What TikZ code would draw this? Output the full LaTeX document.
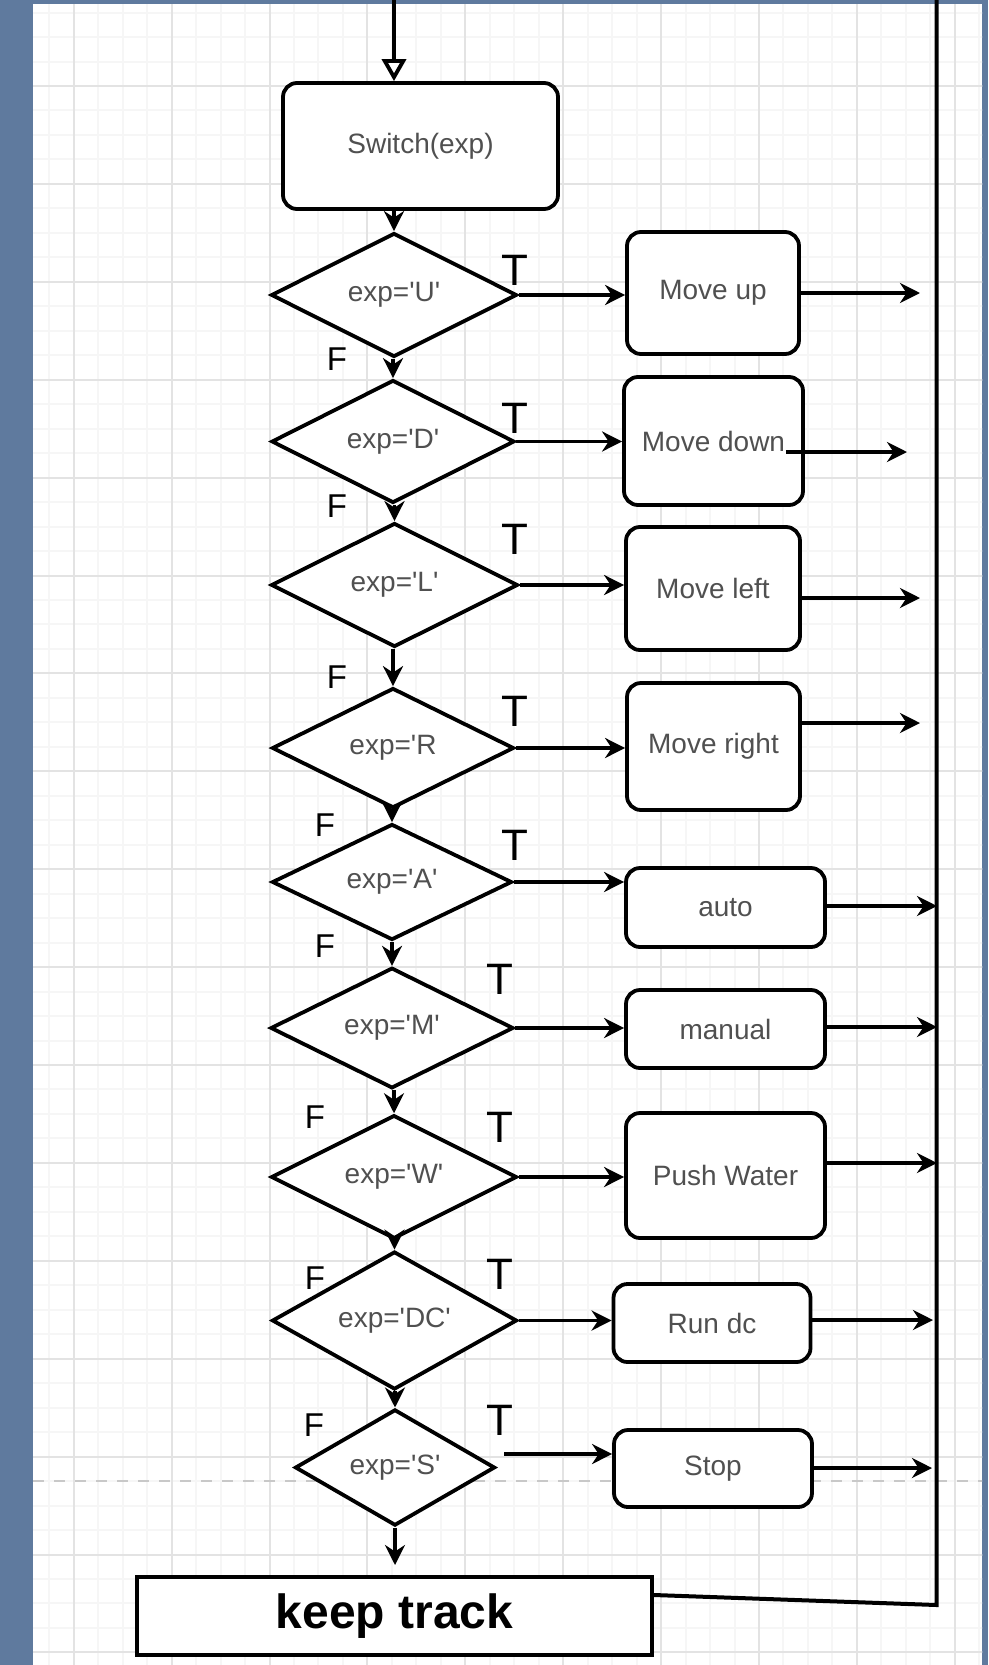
\documentclass[tikz,border=0pt]{standalone}
\usepackage{fontspec}
\setmainfont{Liberation Sans}
\usetikzlibrary{shapes.geometric,arrows.meta,calc}
\definecolor{frameblue}{HTML}{5F7A9E}
\definecolor{gridmajor}{HTML}{E3E3E3}
\definecolor{gridminor}{HTML}{F6F6F6}
\definecolor{txtgray}{HTML}{505050}
\definecolor{dashgray}{HTML}{C8C8C8}
\newcommand{\sq}{\textquotesingle}
\begin{document}
\begin{tikzpicture}[x=1pt,y=-1pt,
  box/.style={draw=black, line width=3.8pt, rounded corners=14pt, fill=white, inner sep=0pt,
    text=txtgray, font=\fontsize{28}{32}\selectfont},
  dia/.style={diamond, draw=black, line width=3.8pt, fill=white, inner sep=0pt,
    text=txtgray, font=\fontsize{28}{32}\selectfont},
  lblT/.style={inner sep=0pt, text=black, font=\fontsize{44}{48}\selectfont},
  lblF/.style={inner sep=0pt, text=black, font=\fontsize{33}{36}\selectfont},
  conn/.style={line width=3.8pt, -{Stealth[length=20pt,width=20pt]}},
  loopline/.style={line width=4pt},
  gmin/.style={draw=gridminor, line width=2pt},
  gmaj/.style={draw=gridmajor, line width=2pt}
]
% background
\useasboundingbox (0,0) rectangle (988,1665);
\fill[frameblue] (0,0) rectangle (988,1665);
\fill[white] (33,4) rectangle (982,1665);
\begin{scope}
  \clip (33,4) rectangle (982,1665);
  \foreach \i in {-2,...,38} {\draw[gmin] ({73.7+24.475*\i},0) -- ++(0,1665);}
  \foreach \j in {-4,...,65} {\draw[gmin] (0,{86+24.475*\j}) -- ++(988,0);}
  \foreach \i in {-1,...,10} {\draw[gmaj] ({73.7+97.9*\i},0) -- ++(0,1665);}
  \foreach \j in {-1,...,17} {\draw[gmaj] (0,{86+97.9*\j}) -- ++(988,0);}
\end{scope}
\draw[dashgray, line width=2pt, dash pattern=on 11pt off 10pt] (33,1480.5) -- (982,1480.5);

% nodes
\node[box, minimum width=275pt, minimum height=126pt] (sw) at (420.5,146) {Switch(exp)};

\node[dia, minimum width=246pt, minimum height=124pt] (U) at (394,295) {exp=\sq U\sq};
\node[dia, minimum width=243pt, minimum height=123pt] (D) at (393,441.5) {exp=\sq D\sq};
\node[dia, minimum width=247pt, minimum height=124pt] (L) at (394.5,585) {exp=\sq L\sq};
\node[dia, minimum width=242pt, minimum height=120pt] (R) at (393,748) {exp=\sq R};
\node[dia, minimum width=240pt, minimum height=116pt] (A) at (392,882) {exp=\sq A\sq};
\node[dia, minimum width=243pt, minimum height=120pt] (M) at (392,1028) {exp=\sq M\sq};
\node[dia, minimum width=246pt, minimum height=120pt] (W) at (394,1177) {exp=\sq W\sq};
\node[dia, minimum width=245pt, minimum height=125pt] (DC) at (394.5,1320.5) {exp=\sq DC\sq};
\node[dia, minimum width=200pt, minimum height=95pt] (S) at (395,1467.5) {exp=\sq S\sq};

\node[box, minimum width=172pt, minimum height=122pt] (mup) at (713,293) {Move up};
\node[box, minimum width=179pt, minimum height=128pt] (mdown) at (713.5,441) {Move down};
\node[box, minimum width=174pt, minimum height=123pt] (mleft) at (713,588.5) {Move left};
\node[box, minimum width=173pt, minimum height=127pt] (mright) at (713.5,746.5) {Move right};
\node[box, minimum width=199pt, minimum height=79pt] (auto) at (725.5,907.5) {auto};
\node[box, minimum width=199pt, minimum height=78pt] (manual) at (725.5,1029) {manual};
\node[box, minimum width=199pt, minimum height=125pt] (push) at (725.5,1175.5) {Push Water};
\node[box, minimum width=197pt, minimum height=78pt] (rundc) at (712,1323) {Run dc};
\node[box, minimum width=198pt, minimum height=77pt] (stop) at (713,1468.5) {Stop};

\node[draw=black, line width=4pt, fill=white, minimum width=515pt, minimum height=78pt, inner sep=0pt,
  font=\bfseries\fontsize{48}{52}\selectfont] (kt) at (394.5,1616) {keep track};

% T / F labels
\node[lblT] (tU) at (515,270) {T};
\node[lblT] (tD) at (515,418) {T};
\node[lblT] (tL) at (515,539) {T};
\node[lblT] (tR) at (515,711) {T};
\node[lblT] (tA) at (515,845) {T};
\node[lblT] (tM) at (500,979) {T};
\node[lblT] (tW) at (500,1127) {T};
\node[lblT] (tDC) at (500,1274) {T};
\node[lblT] (tS) at (500,1420) {T};

\node[lblF] (fU) at (337,359) {F};
\node[lblF] (fD) at (337,506) {F};
\node[lblF] (fL) at (337,677) {F};
\node[lblF] (fR) at (325,825) {F};
\node[lblF] (fA) at (325,946) {F};
\node[lblF] (fM) at (315,1117) {F};
\node[lblF] (fW) at (315,1278) {F};
\node[lblF] (fDC) at (314,1425) {F};

% coordinates
\coordinate (top) at (394,-10);
\coordinate (eU) at (920,293);
\coordinate (eD) at (907,452);
\coordinate (eL) at (920,598);
\coordinate (eR) at (920,723);
\coordinate (eA) at (937,906);
\coordinate (eM) at (937,1027);
\coordinate (eW) at (937,1163);
\coordinate (eDC) at (933,1320);
\coordinate (eS) at (932,1468);
\coordinate (sT) at (504,1454);
\coordinate (loopB) at (936.5,1605);
\coordinate (loopT) at (936.5,-10);

% connectors
\draw[line width=3.8pt, -{Triangle[length=22pt,width=24pt,fill=white]}] (top) -- (top |- sw.north);
\draw[conn] (U.north |- sw.south) -- (U.north);
\draw[conn] (D.north |- U.south) -- (D.north);
\draw[conn] (L.north |- D.south) -- (L.north);
\draw[conn] (R.north |- L.south) -- (R.north);
\draw[conn] (A.north |- R.south) -- (A.north);
\draw[conn] (M.north |- A.south) -- (M.north);
\draw[conn] (W.north |- M.south) -- (W.north);
\draw[conn] (DC.north |- W.south) -- (DC.north);
\draw[conn] (S.north |- DC.south) -- (S.north);
\draw[conn, shorten >=10pt] (S.south) -- (S.south |- kt.north);

\draw[conn] (U.east) -- (U.east -| mup.west);
\draw[conn] (D.east) -- (D.east -| mdown.west);
\draw[conn] (L.east) -- (L.east -| mleft.west);
\draw[conn] (R.east) -- (R.east -| mright.west);
\draw[conn] (A.east) -- (A.east -| auto.west);
\draw[conn] (M.east) -- (M.east -| manual.west);
\draw[conn] (W.east) -- (W.east -| push.west);
\draw[conn] (DC.east) -- (DC.east -| rundc.west);
\draw[conn] (sT) -- (sT -| stop.west);

\draw[loopline] ($(kt.east)+(0,-21)$) -- (loopB) -- (loopT);

\draw[conn] (mup.east) -- (eU);
\draw[conn] ($(mdown.east)+(-19,11)$) -- (eD);
\draw[conn] (eL -| mleft.east) -- (eL);
\draw[conn] (eR -| mright.east) -- (eR);
\draw[conn] (eA -| auto.east) -- (eA);
\draw[conn] (eM -| manual.east) -- (eM);
\draw[conn] (eW -| push.east) -- (eW);
\draw[conn] (eDC -| rundc.east) -- (eDC);
\draw[conn] (eS -| stop.east) -- (eS);
\end{tikzpicture}
\end{document}
